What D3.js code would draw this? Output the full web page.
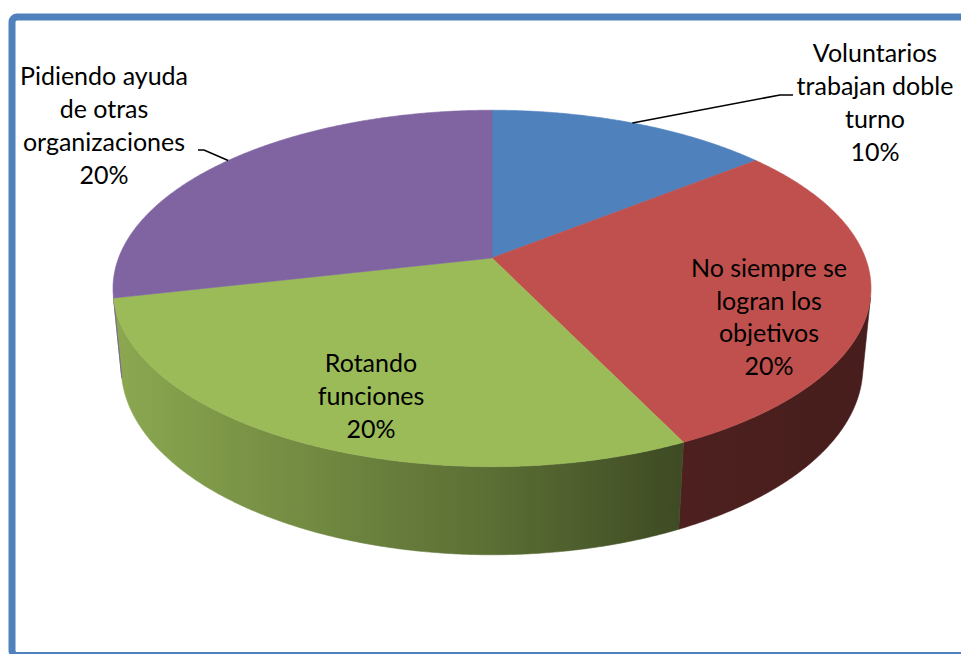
<!DOCTYPE html>
<html>
<head>
<meta charset="utf-8">
<script src="https://cdn.jsdelivr.net/npm/d3@7"></script>
<style>
  html, body { margin: 0; padding: 0; background: #ffffff; }
  svg { display: block; }
  .label { font-family: Lato, "Noto Sans", sans-serif; font-size: 25px; fill: #000000; }
</style>
</head>
<body>
<svg id="chart" width="961" height="654"></svg>
<script>
// Categories and values (percent of respondents)
const categories = [
  "Voluntarios trabajan doble turno",
  "No siempre se logran los objetivos",
  "Rotando funciones",
  "Pidiendo ayuda de otras organizaciones"
];
const values = [10, 20, 20, 20];
const labelLines = [
  ["Voluntarios", "trabajan doble", "turno"],
  ["No siempre se", "logran los", "objetivos"],
  ["Rotando", "funciones"],
  ["Pidiendo ayuda", "de otras", "organizaciones"]
];
const colors = ["#4f81bd", "#c0504d", "#9bbb59", "#8064a2"];

// Label blocks: center x, first baseline, line step; leader elbow (if any)
const labelLayout = [
  { x: 875, y: 62,  step: 33, leader: [[780, 95], [793, 95]] },
  { x: 769, y: 277, step: 32.5, leader: null },
  { x: 371, y: 372, step: 33, leader: null },
  { x: 104, y: 85,  step: 33, leader: [[204, 150], [198, 150]] }
];

const svg = d3.select("#chart");
const defs = svg.append("defs");

// Perspective view of a flat cylinder (unit radius)
const view = { cx: 492, cy: 258, tilt: 27.6 * Math.PI / 180, dist: 5.187, focal: 1937, depth: 0.24 };
const sT = Math.sin(view.tilt), cT = Math.cos(view.tilt);
function project(theta, r, z) {
  const X = r * Math.sin(theta), Y = r * Math.cos(theta);
  const v = Y * sT + z * cT;
  const w = view.dist + Y * cT - z * sT;
  return [view.cx + view.focal * X / w, view.cy - view.focal * v / w];
}

const pie = d3.pie().sort(null).value(d => d);
const arcs = pie(values);

// Visible range of the outer wall (facing the camera)
const tv = Math.acos(-1 / (view.dist * cT));
const visStart = tv, visEnd = 2 * Math.PI - tv;

const line = d3.line();
function sample(a0, a1, r, z) {
  const n = Math.max(2, Math.ceil(Math.abs(a1 - a0) / (0.4 * Math.PI / 180)));
  return d3.range(n + 1).map(i => project(a0 + (a1 - a0) * i / n, r, z));
}

// Side shading: lighter on the left, darker to the right
const xLeft = project(-Math.PI / 2, 1, 0)[0], xRight = project(Math.PI / 2, 1, 0)[0];
const shade = d3.scaleLinear()
  .domain([113, 380, 500, 680, 871])
  .range([0.9, 0.68, 0.58, 0.40, 0.37]);

arcs.forEach((a, i) => {
  const g = defs.append("linearGradient")
    .attr("id", "side-" + i)
    .attr("gradientUnits", "userSpaceOnUse")
    .attr("x1", xLeft).attr("x2", xRight).attr("y1", 0).attr("y2", 0);
  const base = d3.rgb(colors[i]);
  d3.range(0, 1.0001, 0.05).forEach(t => {
    const x = xLeft + (xRight - xLeft) * t;
    const k = shade(x);
    g.append("stop")
      .attr("offset", t)
      .attr("stop-color", d3.rgb(base.r * k, base.g * k, base.b * k).formatHex());
  });
});

// Outer walls
const walls = svg.append("g");
arcs.forEach((a, i) => {
  const t0 = Math.max(a.startAngle, visStart), t1 = Math.min(a.endAngle, visEnd);
  if (t1 <= t0) return;
  const pts = sample(t0, t1, 1, 0).concat(sample(t1, t0, 1, -view.depth));
  walls.append("path")
    .attr("d", line(pts) + "Z")
    .attr("fill", `url(#side-${i})`)
    .attr("stroke", `url(#side-${i})`)
    .attr("stroke-width", 0.6);
});

// Top face
const topFace = svg.append("g");
arcs.forEach((a, i) => {
  const pts = [project(0, 0, 0)].concat(sample(a.startAngle, a.endAngle, 1, 0));
  topFace.append("path")
    .attr("d", line(pts) + "Z")
    .attr("fill", colors[i])
    .attr("stroke", colors[i])
    .attr("stroke-width", 0.6)
    .attr("stroke-linejoin", "round");
});

// Leader lines
arcs.forEach((a, i) => {
  const L = labelLayout[i];
  if (!L.leader) return;
  const mid = (a.startAngle + a.endAngle) / 2;
  const pts = [project(mid, 1, 0)].concat(L.leader);
  svg.append("path")
    .attr("d", line(pts))
    .attr("fill", "none")
    .attr("stroke", "#000000")
    .attr("stroke-width", 1.6);
});

// Data labels
arcs.forEach((a, i) => {
  const L = labelLayout[i];
  const lines = labelLines[i].concat([values[i] + "%"]);
  const t = svg.append("text").attr("class", "label").attr("text-anchor", "middle");
  lines.forEach((s, j) => {
    t.append("tspan").attr("x", L.x).attr("y", L.y + j * L.step).text(s);
  });
});

// Chart frame
svg.append("rect")
  .attr("x", 12).attr("y", 17)
  .attr("width", 1000).attr("height", 638.5)
  .attr("rx", 5).attr("ry", 5)
  .attr("fill", "none")
  .attr("stroke", "#4f81bd")
  .attr("stroke-width", 7);
</script>
</body>
</html>
